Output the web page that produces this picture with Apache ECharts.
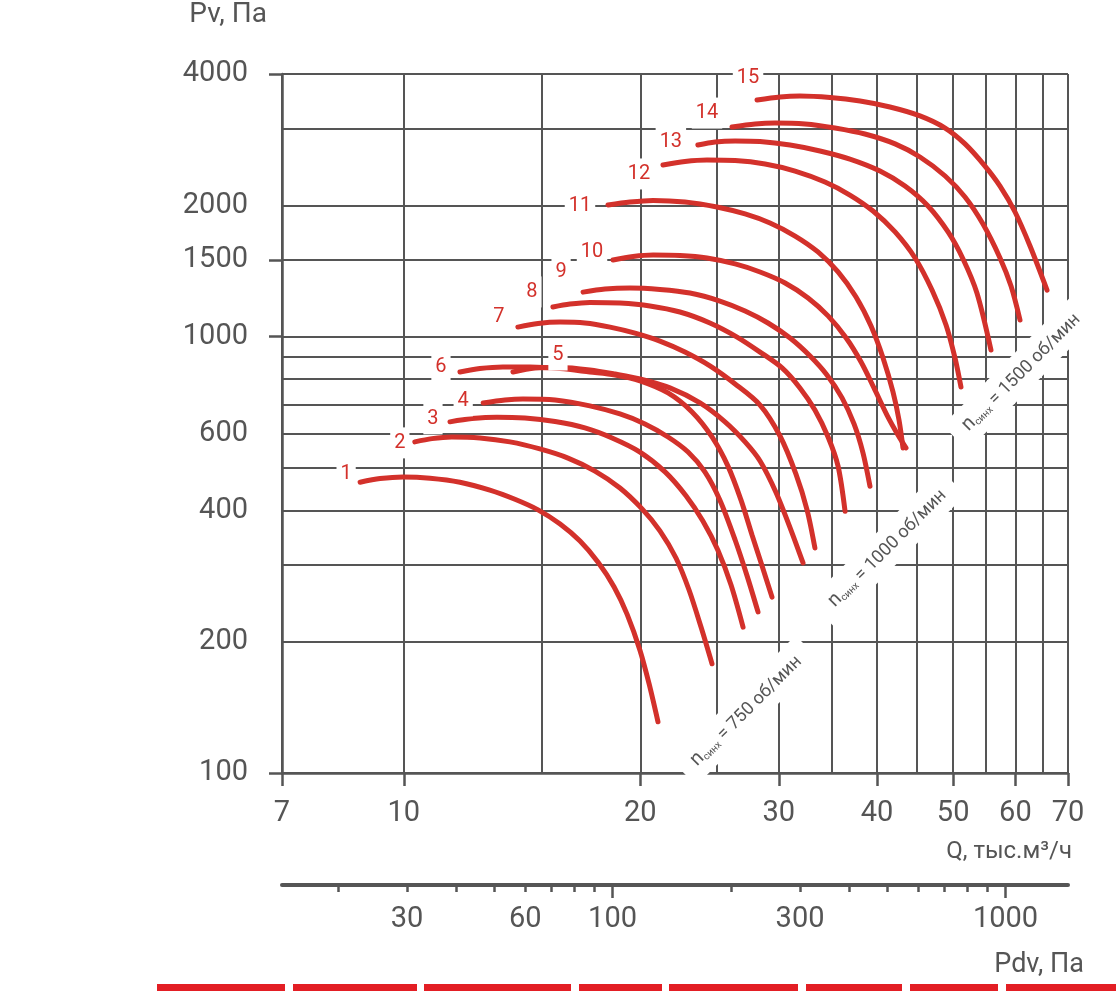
<!DOCTYPE html>
<html>
<head>
<meta charset="utf-8">
<script src="https://cdn.jsdelivr.net/npm/echarts@6/dist/echarts.min.js"></script>
<style>
html,body{margin:0;padding:0;background:#fff;}
#chart{width:1116px;height:991px;}
</style>
</head>
<body>
<div id="chart"></div>
<script>
var FONT = "Roboto,'Liberation Sans',sans-serif";
var GRAY = '#555';
var RED = '#d3312b';

// оси: Q (тыс.м3/ч), Pv (Па), Pdv (Па)
var qLines = [7, 10, 15, 20, 25, 30, 35, 40, 45, 50, 55, 60, 65, 70];
var qLabels = [7, 10, 20, 30, 40, 50, 60, 70];
var pvLines = [100, 200, 300, 400, 500, 600, 700, 800, 900, 1000, 1500, 2000, 3000, 4000];
var pvLabels = [100, 200, 400, 600, 1000, 1500, 2000, 4000];
var pvTicks = [100, 1000, 1500, 4000];
var pdvTicks = [20, 30, 40, 50, 60, 70, 80, 90, 100, 200, 300, 400, 500, 600, 700, 800, 900, 1000];
var pdvMajor = [100, 1000];
var pdvLabels = [30, 60, 100, 300, 1000];
var pdvMin = 14.42, pdvMax = 1442;

// характеристики [Q, Pv]
var curve1 = [[8.80,464],[9.33,473],[9.98,477],[10.80,474],[11.79,464],[12.87,445],[13.85,424],[14.82,401],[15.81,372],[16.76,340],[17.67,304],[18.52,267],[19.24,231],[19.98,191],[20.52,160],[21.06,131]];
var curve2 = [[10.33,574],[10.86,584],[11.51,589],[12.50,586],[13.65,574],[14.90,553],[16.18,527],[17.51,492],[18.84,450],[20.10,403],[21.18,359],[22.20,311],[23.06,263],[23.89,216],[24.67,178]];
var curve3 = [[11.45,638],[12.21,649],[13.14,654],[14.26,651],[15.58,639],[17.00,618],[18.41,586],[19.98,544],[21.50,490],[22.86,432],[24.02,378],[25.10,324],[26.08,270],[27.02,216]];
var curve4 = [[12.62,705],[13.45,716],[14.18,720],[15.58,716],[17.25,694],[18.84,665],[20.27,631],[21.69,589],[23.00,544],[24.16,490],[25.25,422],[26.40,342],[27.34,283],[28.23,234]];
var curve5 = [[13.77,830],[14.69,848],[15.81,850],[17.25,839],[18.57,821],[19.98,800],[21.81,763],[23.82,705],[25.63,638],[27.18,574],[28.40,519],[29.75,440],[31.10,360],[32.21,303]];
var curve6 = [[11.79,830],[12.50,845],[13.37,852],[14.48,852],[15.81,845],[17.25,830],[18.57,817],[19.98,792],[21.69,743],[23.27,672],[24.67,589],[25.85,505],[26.86,422],[27.74,351],[28.57,298],[29.41,253]];
var curve7 = [[13.97,1052],[14.82,1072],[15.81,1080],[17.00,1075],[18.30,1052],[19.69,1019],[21.18,977],[22.79,922],[24.52,857],[26.40,779],[28.40,697],[30.11,592],[31.55,484],[32.59,401],[33.35,328]];
var curve8 = [[15.48,1170],[16.27,1188],[17.25,1198],[18.84,1194],[20.57,1176],[22.46,1139],[24.52,1075],[26.55,998],[28.40,922],[30.29,848],[31.92,763],[33.35,679],[34.66,589],[35.69,505],[36.43,398]];
var curve9 = [[16.91,1265],[18.03,1286],[19.40,1293],[21.18,1283],[23.13,1259],[25.25,1207],[27.18,1145],[29.07,1075],[31.01,993],[32.88,903],[34.55,817],[36.11,724],[37.40,631],[38.40,541],[39.19,454]];
var curve10 = [[18.46,1499],[19.58,1527],[20.76,1539],[22.46,1535],[24.31,1515],[26.40,1468],[28.40,1407],[30.56,1328],[32.69,1227],[34.66,1116],[36.55,993],[38.18,875],[39.65,763],[41.19,661],[42.54,595],[43.55,556]];
var curve11 = [[18.19,2004],[19.40,2036],[20.76,2053],[22.79,2036],[25.03,1983],[27.18,1911],[29.24,1822],[31.47,1701],[33.65,1564],[35.69,1407],[37.62,1233],[39.31,1058],[40.72,894],[41.92,747],[42.67,644],[43.17,556]];
var curve12 = [[21.37,2475],[22.79,2521],[24.31,2541],[26.40,2534],[28.82,2488],[31.47,2397],[34.35,2262],[36.95,2112],[39.54,1941],[42.18,1738],[44.72,1515],[47.00,1279],[48.97,1064],[50.27,894],[51.16,767]];
var curve13 = [[23.67,2750],[24.89,2794],[26.40,2809],[28.40,2801],[31.01,2750],[33.85,2665],[36.95,2553],[40.36,2397],[43.42,2214],[46.45,1993],[49.26,1738],[51.47,1507],[53.61,1259],[55.86,932]];
var curve14 = [[26.16,3023],[27.99,3072],[29.67,3088],[32.40,3072],[35.37,3007],[38.61,2914],[42.18,2766],[45.37,2581],[48.84,2335],[51.77,2090],[54.57,1812],[57.36,1515],[59.24,1306],[60.82,1092]];
var curve15 = [[28.15,3487],[30.11,3544],[31.92,3562],[34.86,3534],[38.07,3468],[41.55,3360],[45.37,3206],[48.84,3007],[51.77,2766],[54.89,2461],[57.36,2214],[59.94,1931],[62.63,1614],[65.83,1279]];

var curves = [curve1, curve2, curve3, curve4, curve5, curve6, curve7, curve8,
	curve9, curve10, curve11, curve12, curve13, curve14, curve15];
// смещение номера от начала кривой, px
var numOffsets = [[-14,-8],[-15,1],[-17,-3],[-20,-2],[45,-17],[-19,-5],[-19,-10],[-21,-15],
	[-22,-20],[-21,-8],[-28,1],[-24,9],[-27,-3],[-25,-14],[-9,-22]];

// подписи синхронной частоты: [Q, Pv] центра
var rpmNames = ['750', '1000', '1500'];
var rpmAt = [[27.25,139],[41.2,328],[61.0,830]];

var chart = echarts.init(document.getElementById('chart'));

var series = [];
for (var i = 0; i < curves.length; i++) {
	var pts = curves[i].map(function (p, k) {
		if (k > 0) return p;
		return {
			value: p,
			label: {
				show: true,
				position: 'inside',
				offset: numOffsets[i],
				formatter: String(i + 1),
				color: RED,
				fontSize: 20,
				fontFamily: FONT,
				backgroundColor: '#fff',
				padding: [6, 4, 5, 4]
			}
		};
	});
	series.push({
		name: 'curve' + (i + 1),
		type: 'line',
		xAxisIndex: 0,
		yAxisIndex: 0,
		smooth: 0.3,
		symbol: 'circle',
		symbolSize: 0,
		showSymbol: true,
		silent: true,
		lineStyle: { color: RED, width: 5, cap: 'round' },
		itemStyle: { color: RED },
		label: { show: false },
		data: pts,
		z: 3
	});
}

var lineSt = { color: GRAY, width: 2 };
var axisSt = { color: GRAY, width: 2.5 };
var plain = function (v) { return String(v); };

var option = {
	animation: false,
	backgroundColor: '#fff',
	grid: { left: 282, right: 48, top: 74, bottom: 218, containLabel: false },
	xAxis: [{
		type: 'log', logBase: 10, min: 7, max: 70, position: 'bottom',
		axisLine: { show: true, onZero: false, lineStyle: axisSt },
		axisTick: { show: true, customValues: qLabels, length: 13, lineStyle: axisSt },
		axisLabel: { customValues: qLabels, margin: 26, color: GRAY, fontSize: 29, fontFamily: FONT, formatter: plain },
		splitLine: { show: false }
	}, {
		type: 'log', logBase: 10, min: 7, max: 70, position: 'top',
		axisLine: { show: false },
		axisTick: { show: false, customValues: qLines },
		axisLabel: { show: false },
		splitLine: { show: true, lineStyle: lineSt }
	}, {
		type: 'log', logBase: 10, min: pdvMin, max: pdvMax, position: 'bottom', offset: 112,
		axisLine: { show: true, onZero: false, lineStyle: { color: GRAY, width: 4 } },
		axisTick: { show: true, customValues: pdvTicks, length: 7, lineStyle: axisSt },
		axisLabel: { customValues: pdvLabels, margin: 20, color: GRAY, fontSize: 29, fontFamily: FONT, formatter: plain },
		splitLine: { show: false }
	}, {
		type: 'log', logBase: 10, min: pdvMin, max: pdvMax, position: 'bottom', offset: 112,
		axisLine: { show: false },
		axisTick: { show: true, customValues: pdvMajor, length: 13, lineStyle: axisSt },
		axisLabel: { show: false },
		splitLine: { show: false }
	}],
	yAxis: [{
		type: 'log', logBase: 10, min: 100, max: 4000, position: 'left',
		name: 'Pv, Па', nameLocation: 'end', nameGap: 59,
		nameTextStyle: { color: GRAY, fontSize: 28, fontFamily: FONT, align: 'right', verticalAlign: 'middle', padding: [0, 15, 0, 0] },
		axisLine: { show: true, onZero: false, lineStyle: axisSt },
		axisTick: { show: true, customValues: pvTicks, length: 13, lineStyle: axisSt },
		axisLabel: { customValues: pvLabels, margin: 34, color: GRAY, fontSize: 29, fontFamily: FONT, formatter: plain },
		splitLine: { show: false }
	}, {
		type: 'log', logBase: 10, min: 100, max: 4000, position: 'right',
		axisLine: { show: false },
		axisTick: { show: false, customValues: pvLines },
		axisLabel: { show: false },
		splitLine: { show: true, lineStyle: lineSt }
	}],
	series: series
};
chart.setOption(option);

// подписи осей, повернутые подписи n синх и красная полоса внизу
var graphics = [{
	type: 'text', x: 1072, y: 852, z: 50,
	style: { text: 'Q, тыс.м³/ч', align: 'right', verticalAlign: 'middle', fill: GRAY, fontSize: 24, fontFamily: FONT }
}, {
	type: 'text', x: 1084, y: 965, z: 50,
	style: { text: 'Pdv, Па', align: 'right', verticalAlign: 'middle', fill: GRAY, fontSize: 27, fontFamily: FONT }
}];
for (var j = 0; j < rpmNames.length; j++) {
	var c = chart.convertToPixel({ xAxisIndex: 0, yAxisIndex: 0 }, rpmAt[j]);
	graphics.push({
		type: 'text',
		x: c[0], y: c[1],
		rotation: Math.PI / 4,
		z: 50,
		style: {
			text: '{n|n}{s|синх}{t| = ' + rpmNames[j] + ' об/мин}',
			align: 'center',
			verticalAlign: 'middle',
			backgroundColor: '#fff',
			padding: [8, 14, 8, 14],
			rich: {
				n: { fontSize: 20, fontFamily: FONT, fill: GRAY, verticalAlign: 'bottom' },
				s: { fontSize: 10, fontFamily: FONT, fill: GRAY, verticalAlign: 'bottom' },
				t: { fontSize: 18, fontFamily: FONT, fill: GRAY, verticalAlign: 'bottom' }
			}
		}
	});
}
var barCuts = [157, 285, 293, 417, 424, 571, 579, 662, 669, 798, 806, 902, 910, 998, 1006, 1116];
for (var b = 0; b < barCuts.length; b += 2) {
	graphics.push({
		type: 'rect',
		shape: { x: barCuts[b], y: 984, width: barCuts[b + 1] - barCuts[b], height: 8 },
		style: { fill: '#e31e24' },
		z: 50
	});
}
chart.setOption({ graphic: graphics });
</script>
</body>
</html>
